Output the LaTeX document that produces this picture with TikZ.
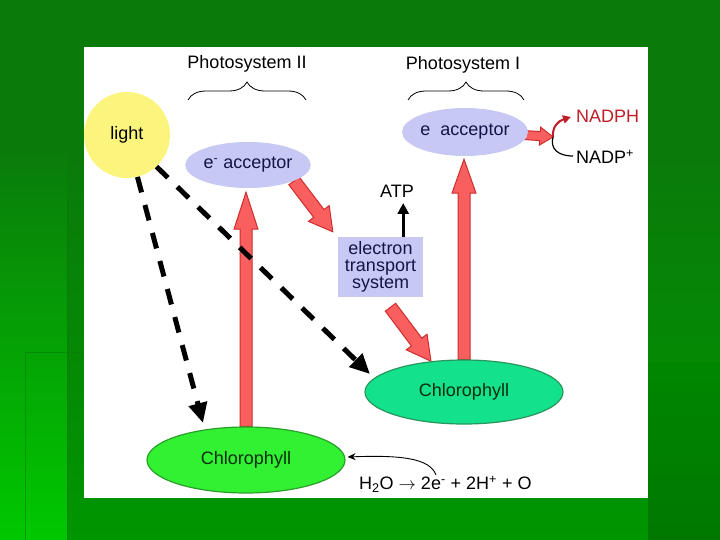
\documentclass[tikz,border=0pt]{standalone}
\usepackage{fontspec}
\setmainfont{Liberation Sans}
\usetikzlibrary{calc,arrows.meta,decorations.pathreplacing,shapes.geometric}
\pgfdeclarelayer{back}\pgfdeclarelayer{bg}\pgfsetlayers{back,bg,main}
\definecolor{acc}{RGB}{200,200,245}
\definecolor{sun}{RGB}{252,245,125}
\definecolor{chlA}{RGB}{50,240,50}
\definecolor{chlAb}{RGB}{40,160,40}
\definecolor{chlB}{RGB}{20,225,140}
\definecolor{chlBb}{RGB}{40,150,90}
\definecolor{arrfill}{RGB}{250,95,95}
\definecolor{arrline}{RGB}{205,45,45}
\definecolor{nadred}{RGB}{190,30,40}
\definecolor{navy}{RGB}{20,20,70}
\definecolor{darkg}{RGB}{10,45,10}
\definecolor{bgtop}{RGB}{10,122,10}
\definecolor{bgmid}{RGB}{0,150,0}
\definecolor{bgbright}{RGB}{0,200,0}
\newcommand\blockarrow[5]{%
  \coordinate (bah) at ($(#2)!#5!(#1)$);
  \filldraw[redarrow] ($(#1)!#3!90:(#2)$) -- ($(bah)!#3!90:(#2)$) -- ($(bah)!#4!90:(#2)$) -- (#2)
    -- ($(bah)!#4!-90:(#2)$) -- ($(bah)!#3!-90:(#2)$) -- ($(#1)!#3!-90:(#2)$) -- cycle;}
\begin{document}
\begin{tikzpicture}[x=1pt,y=-1pt,
  every node/.style={font=\fontsize{18pt}{17pt}\selectfont, inner sep=1pt},
  sunnode/.style={circle, fill=sun, minimum size=86pt, inner sep=0pt},
  accnode/.style={ellipse, fill=acc, minimum width=124pt, minimum height=46pt, inner sep=0pt, text=navy},
  etsnode/.style={rectangle, fill=acc, minimum width=85pt, minimum height=60pt, inner sep=0pt, align=center, text=navy},
  chlnode/.style={ellipse, line width=1.2pt, minimum width=198pt, minimum height=65pt, inner sep=0pt, text=darkg},
  redarrow/.style={fill=arrfill, draw=arrline, line width=1pt, line join=miter},
  dasharrow/.style={line width=5pt, dash pattern=on 16pt off 13pt, -{Triangle[length=20pt,width=18pt]}},
  bracestyle/.style={decorate, decoration={brace, amplitude=18pt, aspect=0.5}, line width=0.8pt}]
\useasboundingbox (0,0) rectangle (720,540);
\begin{pgfonlayer}{back}
  \fill[bgtop] (0,0) rectangle (720,540);
  \shade[top color=bgtop, bottom color=bgbright] (0,143) rectangle (720,540);
  \shade[top color=bgtop, bottom color=bgmid] (67,143) rectangle (720,540);
  \shade[top color=bgmid!90!black, bottom color=bgmid!80!black] (648,363) rectangle (720,540);
  \draw[bgtop, line width=1pt, opacity=0.6] (67,143) -- (67,540) (25,352) -- (84,352) (25,352) -- (25,540);
  \fill[white] (84,47) rectangle (648,498);
\end{pgfonlayer}

% nodes
\node[sunnode] (light) at (127,135) {light};
\node[accnode] (acc2) at (248,165) {e\textsuperscript{-} acceptor};
\node[accnode, minimum height=48pt] (acc1) at (465,132) {e\ \ acceptor};
\node[etsnode] (ets) at (380.5,267) {electron\\transport\\system};
\node[chlnode, fill=chlA, draw=chlAb, minimum height=66pt] (chl2) at (246,460) {Chlorophyll};
\node[chlnode, fill=chlB, draw=chlBb, minimum height=64pt] (chl1) at (464,392) {Chlorophyll};
\node (ps2) at (247,64) {Photosystem II};
\node (ps1) at (463,65) {Photosystem I};
\node (atp) at (397,191) {ATP};
\node[anchor=west, text=nadred] (nadph) at (575,116) {NADPH};
\node[anchor=west] (nadpp) at (575,157) {NADP\textsuperscript{+}};
\node[anchor=west] (eq) at (358,484) {H\textsubscript{2}O $\rightarrow$ 2e\textsuperscript{-} + 2H\textsuperscript{+} + O};

% braces
\draw[bracestyle] (188,100) -- (306,100);
\draw[bracestyle] (408,100) -- (524,100);

% red block arrows (behind nodes)
\coordinate (t2) at ($(chl2.north |- acc2.south)+(0,4)$);
\coordinate (t1) at ($(chl1.north |- acc1.south)+(0,3)$);
\coordinate (d1a) at (acc2.-19);
\coordinate (d1b) at ($(ets.north west)+(-5,-5)$);
\coordinate (d2a) at ($(ets.south)+(10,10)$);
\coordinate (d2b) at (chl1.137);
\coordinate (junc) at (553,137);
\coordinate (sa) at ($(acc1.east)+(-4,3)$);
\begin{pgfonlayer}{bg}
  \blockarrow{chl2.north}{t2}{6pt}{12pt}{37pt}
  \blockarrow{chl1.north}{t1}{6pt}{12pt}{34pt}
  \blockarrow{d1a}{d1b}{6.5pt}{13pt}{23pt}
  \blockarrow{d2a}{d2b}{6.5pt}{13pt}{24pt}
  \blockarrow{sa}{junc}{4.5pt}{9pt}{13pt}
\end{pgfonlayer}

% dashed light arrows
\coordinate (l1) at ($(chl2.center)+(-43,-37)$);
\coordinate (l2) at ($(chl1.center)+(-94,-18)$);
\draw[dasharrow] (light.-76) -- (l1);
\draw[dasharrow] (light.-47) -- (l2);

% ATP arrow
\coordinate (atpa) at ($(ets.north east)+(-20,0)$);
\draw[line width=3pt, -{Triangle[length=11pt,width=11pt]}] (atpa) -- (atpa |- 0,203);

% NADP curve
\draw[line width=1.2pt] ($(nadpp.west)+(-2,-1)$) .. controls (557,156) and (550,148) .. (junc);
\draw[nadred, line width=2pt, -{Triangle[length=8pt,width=8pt]}] (junc) .. controls (552,127) and (558,121) .. ($(nadph.west)+(-4,1)$);

% water arrow
\coordinate (h2o) at (436,475);
\draw[line width=0.9pt, -{Stealth[length=8pt,width=7pt]}] (h2o) .. controls (430,458) and (400,455) .. ($(chl2.east)+(2,-3)$);
\end{tikzpicture}
\end{document}
